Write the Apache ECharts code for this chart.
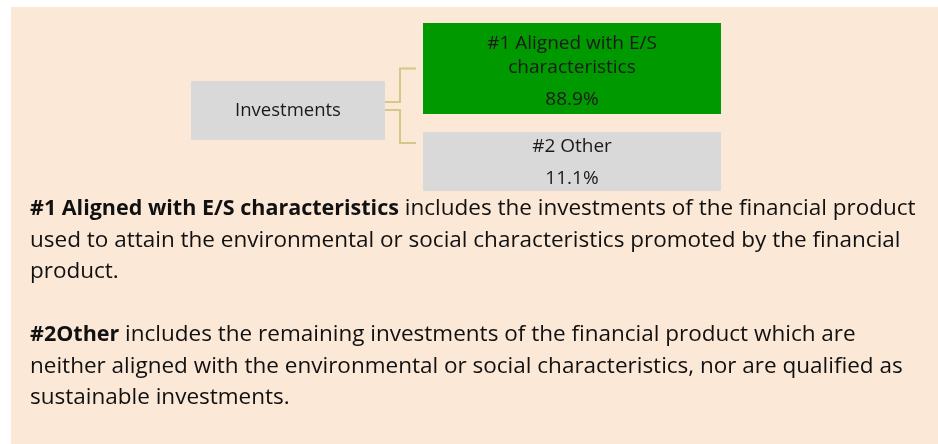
<!DOCTYPE html>
<html>
<head>
<meta charset="utf-8">
<script src="https://cdn.jsdelivr.net/npm/echarts@6/dist/echarts.min.js"></script>
<style>
html, body { margin: 0; padding: 0; background: #fff; }
#main { width: 938px; height: 444px; }
</style>
</head>
<body>
<div id="main"></div>
<script>
// diagram nodes: label, level in the tree, row, share of investments
const nodeNames = ['Investments', '#1 Aligned with E/S\ncharacteristics', '#2 Other'];
const nodeLevels = [0, 1, 1];
const nodeRows = [0.5, 0, 1];
const nodeShares = [null, 88.9, 11.1];

// explanatory text under the diagram ({b|...} = bold)
const noteLines = [
  '{b|#1 Aligned with E/S characteristics} includes the investments of the financial product',
  'used to attain the environmental or social characteristics promoted by the financial',
  'product.',
  '',
  '{b|#2Other} includes the remaining investments of the financial product which are',
  'neither aligned with the environmental or social characteristics, nor are qualified as',
  'sustainable investments.'
];

const FONT = 'Open Sans';
const boxColors = ['#D9D9D9', '#009900', '#D9D9D9'];
const lineColor = '#D3C886';

const chartDom = document.getElementById('main');
const myChart = echarts.init(chartDom);

function renderItem(params, api) {
  const i = params.dataIndex;
  const level = api.value(0);
  const row = api.value(1);
  const c = api.coord([level, row]);
  const lines = nodeNames[i].split('\n').length;
  const w = level === 0 ? 194 : 298;
  const h = lines > 1 ? 91 : 59;
  const cy = level === 0 ? c[1] - 4.5 : c[1];
  const x0 = c[0] - w / 2;
  const y0 = cy - h / 2;
  const children = [{
    type: 'rect',
    shape: { x: x0, y: y0, width: w, height: h },
    style: { fill: boxColors[i] }
  }];
  if (level === 0) {
    children.push({
      type: 'text',
      style: { text: nodeNames[i], x: c[0], y: cy + 0.5, align: 'center', verticalAlign: 'middle',
        fontFamily: FONT, fontSize: 18.5, fill: '#1a1a1a' }
    });
  } else {
    const valueY = y0 + h - (lines > 1 ? 14.5 : 12.5);
    children.push({
      type: 'text',
      style: { text: api.value(2).toFixed(1) + '%', x: c[0], y: valueY, align: 'center', verticalAlign: 'middle',
        fontFamily: FONT, fontSize: 19, fill: '#1a1a1a' }
    });
    children.push({
      type: 'text',
      style: { text: nodeNames[i], x: c[0], y: valueY - 32 - (lines - 1) * 12, align: 'center', verticalAlign: 'middle',
        lineHeight: 24, fontFamily: FONT, fontSize: 19, fill: '#1a1a1a' }
    });
    // elbow connector from the root box
    const r = api.coord([0, 0.5]);
    const rootRight = r[0] + 97;
    const rootCy = r[1] - 4.5;
    const sy = row === 0 ? rootCy - 8.5 : rootCy - 0.5;
    const ey = row === 0 ? cy : y0 + 11;
    const ex = x0 - 7;
    const mx = rootRight + 15;
    children.push({
      type: 'polyline',
      shape: { points: [[rootRight, sy], [mx, sy], [mx, ey], [ex, ey]] },
      style: { stroke: lineColor, lineWidth: 2, fill: null }
    });
  }
  return { type: 'group', children: children };
}

const seriesData = nodeNames.map((n, i) => [nodeLevels[i], nodeRows[i], nodeShares[i] == null ? 0 : nodeShares[i]]);

const noteGraphics = noteLines.map((t, k) => ({
  type: 'text',
  x: 30,
  y: 209 + k * 31.5,
  style: {
    text: t,
    verticalAlign: 'middle',
    fontFamily: FONT,
    fontSize: 22.5,
    fill: '#111',
    rich: {
      b: { fontFamily: FONT, fontSize: 21.5, fontWeight: 'bold', fill: '#111' }
    }
  }
}));

const option = {
  animation: false,
  backgroundColor: '#fff',
  grid: { left: 288, right: 366, top: 68.5, bottom: 282.5 },
  xAxis: { type: 'value', min: 0, max: 1, show: false },
  yAxis: { type: 'value', min: 0, max: 1, inverse: true, show: false },
  graphic: [
    { type: 'rect', left: 11, top: 7, z: -10, shape: { width: 927, height: 437 }, style: { fill: '#FBE8D7' } }
  ].concat(noteGraphics),
  series: [{
    type: 'custom',
    renderItem: renderItem,
    clip: false,
    data: seriesData
  }]
};

option && myChart.setOption(option);
</script>
</body>
</html>
